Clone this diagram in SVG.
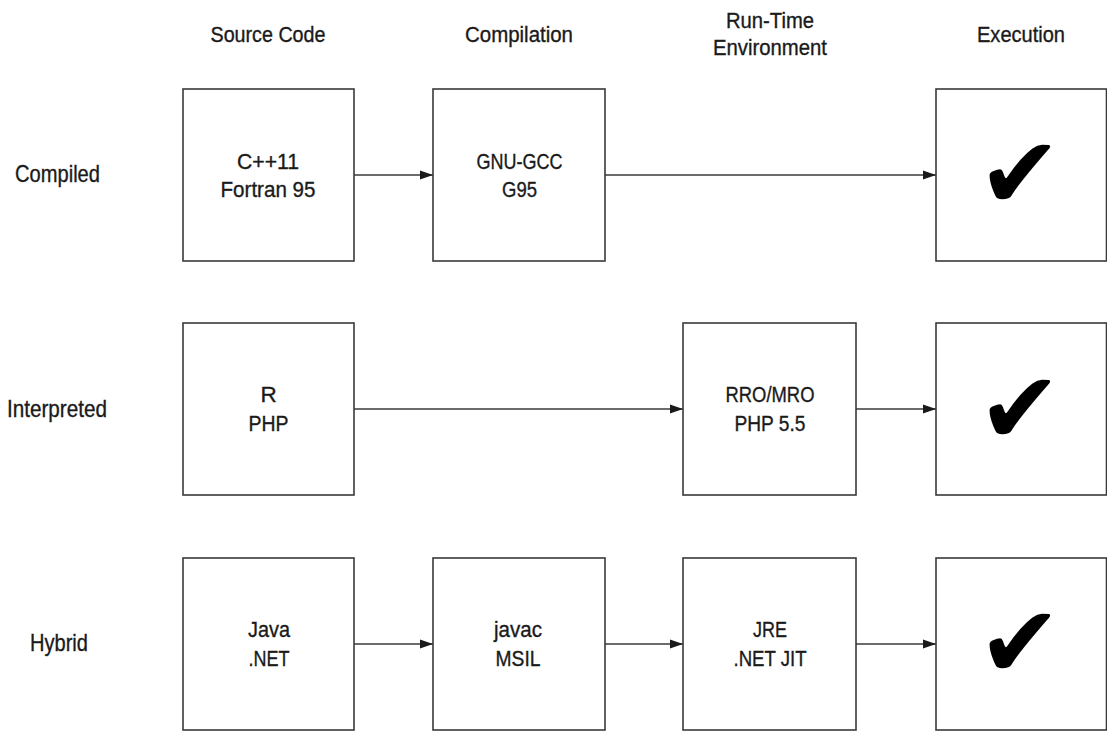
<svg xmlns="http://www.w3.org/2000/svg" width="1107" height="731" viewBox="0 0 1107 731">
<style>
  .box { fill: #ffffff; stroke: #3a3a3a; stroke-width: 1.6; }
  .t { font-family: "Liberation Sans", Arial, sans-serif; font-size: 22.5px; fill: #1a1a1a; stroke: #1a1a1a; stroke-width: 0.35; text-anchor: middle; }
  .rl { font-family: "Liberation Sans", Arial, sans-serif; font-size: 24px; fill: #1a1a1a; stroke: #1a1a1a; stroke-width: 0.35; text-anchor: start; }
  .chk { font-family: "DejaVu Sans", sans-serif; font-size: 100px; fill: #000000; text-anchor: middle; }
  .conn { stroke: #3a3a3a; stroke-width: 1.6; fill: none; marker-end: url(#ah); }
</style>
<defs>
  <marker id="ah" viewBox="0 0 13 10" refX="13" refY="5" markerWidth="13" markerHeight="10" markerUnits="userSpaceOnUse" orient="auto">
    <path d="M0,0.5 L13,5 L0,9.5 Z" fill="#1a1a1a"/>
  </marker>
</defs>
<rect width="1107" height="731" fill="#ffffff"/>

<g id="headers">
  <text class="t" x="268" y="41.7" textLength="115" lengthAdjust="spacingAndGlyphs">Source Code</text>
  <text class="t" x="519" y="41.7" textLength="108" lengthAdjust="spacingAndGlyphs">Compilation</text>
  <text class="t" x="770" y="28.3" textLength="88" lengthAdjust="spacingAndGlyphs">Run-Time</text>
  <text class="t" x="770" y="55" textLength="114" lengthAdjust="spacingAndGlyphs">Environment</text>
  <text class="t" x="1021" y="41.7" textLength="88" lengthAdjust="spacingAndGlyphs">Execution</text>
</g>

<g id="row-labels">
  <text class="rl" x="15" y="181.7" textLength="85" lengthAdjust="spacingAndGlyphs">Compiled</text>
  <text class="rl" x="7" y="416.7" textLength="100" lengthAdjust="spacingAndGlyphs">Interpreted</text>
  <text class="rl" x="30" y="650.7" textLength="58" lengthAdjust="spacingAndGlyphs">Hybrid</text>
</g>

<g id="connectors">
  <line class="conn" x1="354" y1="175" x2="433" y2="175"/>
  <line class="conn" x1="605" y1="175" x2="936" y2="175"/>
  <line class="conn" x1="354" y1="409" x2="683" y2="409"/>
  <line class="conn" x1="856" y1="409" x2="936" y2="409"/>
  <line class="conn" x1="354" y1="644" x2="433" y2="644"/>
  <line class="conn" x1="605" y1="644" x2="683" y2="644"/>
  <line class="conn" x1="856" y1="644" x2="936" y2="644"/>
</g>

<g id="compiled-source">
  <rect class="box" x="183" y="89" width="171" height="172"/>
  <text class="t" x="268" y="169" textLength="62" lengthAdjust="spacingAndGlyphs">C++11</text>
  <text class="t" x="268" y="197.3" textLength="95" lengthAdjust="spacingAndGlyphs">Fortran 95</text>
</g>
<g id="compiled-compilation">
  <rect class="box" x="433" y="89" width="172" height="172"/>
  <text class="t" x="519.5" y="169" textLength="86" lengthAdjust="spacingAndGlyphs">GNU-GCC</text>
  <text class="t" x="519.5" y="197.3" textLength="35" lengthAdjust="spacingAndGlyphs">G95</text>
</g>
<g id="compiled-execution">
  <rect class="box" x="936" y="89" width="170.5" height="172"/>
  <text class="chk" x="1020" y="208">✔</text>
</g>

<g id="interpreted-source">
  <rect class="box" x="183" y="323" width="171" height="172"/>
  <text class="t" x="268.5" y="402.3">R</text>
  <text class="t" x="268.5" y="430.7" textLength="40" lengthAdjust="spacingAndGlyphs">PHP</text>
</g>
<g id="interpreted-runtime">
  <rect class="box" x="683" y="323" width="173" height="172"/>
  <text class="t" x="770" y="402.3" textLength="89" lengthAdjust="spacingAndGlyphs">RRO/MRO</text>
  <text class="t" x="770" y="430.7" textLength="71" lengthAdjust="spacingAndGlyphs">PHP 5.5</text>
</g>
<g id="interpreted-execution">
  <rect class="box" x="936" y="323" width="170.5" height="172"/>
  <text class="chk" x="1020" y="443">✔</text>
</g>

<g id="hybrid-source">
  <rect class="box" x="183" y="558" width="171" height="172"/>
  <text class="t" x="269" y="636.7" textLength="42" lengthAdjust="spacingAndGlyphs">Java</text>
  <text class="t" x="269" y="665.5" textLength="41" lengthAdjust="spacingAndGlyphs">.NET</text>
</g>
<g id="hybrid-compilation">
  <rect class="box" x="433" y="558" width="172" height="172"/>
  <text class="t" x="518" y="636.7" textLength="48" lengthAdjust="spacingAndGlyphs">javac</text>
  <text class="t" x="518" y="665.5" textLength="45" lengthAdjust="spacingAndGlyphs">MSIL</text>
</g>
<g id="hybrid-runtime">
  <rect class="box" x="683" y="558" width="173" height="172"/>
  <text class="t" x="770" y="636.7" textLength="34" lengthAdjust="spacingAndGlyphs">JRE</text>
  <text class="t" x="770" y="665.5" textLength="73" lengthAdjust="spacingAndGlyphs">.NET JIT</text>
</g>
<g id="hybrid-execution">
  <rect class="box" x="936" y="558" width="170.5" height="172"/>
  <text class="chk" x="1020" y="677">✔</text>
</g>
</svg>
